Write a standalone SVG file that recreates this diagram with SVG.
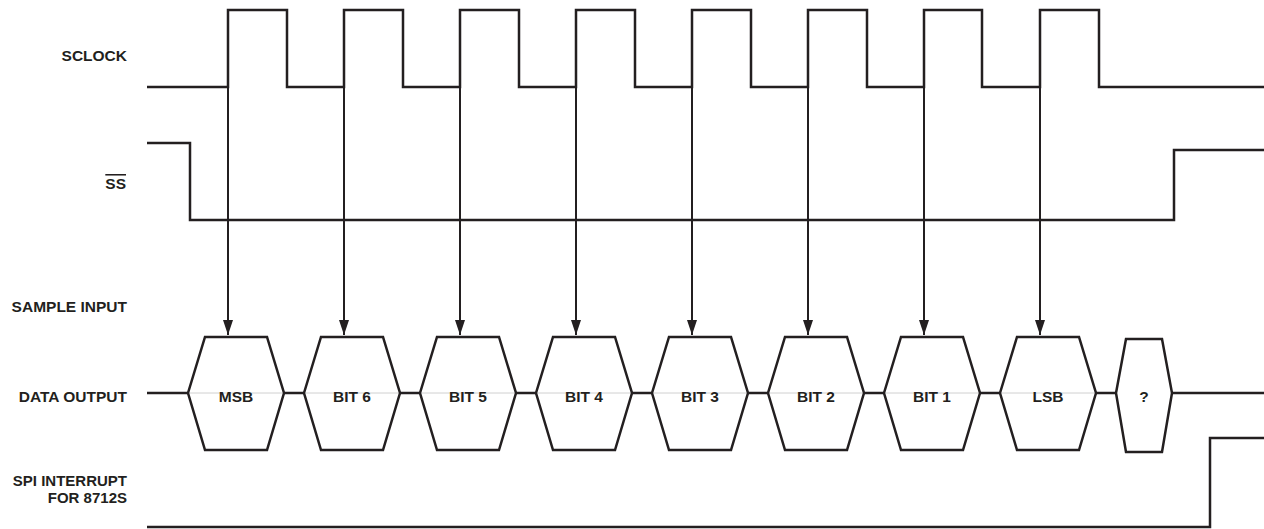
<svg xmlns="http://www.w3.org/2000/svg" width="1264" height="529" viewBox="0 0 1264 529">
<style>
.sig{fill:none;stroke:#231f20;stroke-width:2.5;stroke-linejoin:miter;stroke-linecap:butt}
.arr{fill:none;stroke:#231f20;stroke-width:2}
.hex{fill:none;stroke:#231f20;stroke-width:2.5;stroke-linejoin:miter}
.lbl{font-family:"Liberation Sans",Arial,sans-serif;font-weight:bold;font-size:15.5px;fill:#231f20}
.sm{font-size:15px}
.r{text-anchor:end}
.c{text-anchor:middle}
.guide{stroke:#d0d0d0;stroke-width:1}
</style>
<defs>
<marker id="ah" markerWidth="16" markerHeight="10" refX="15" refY="5" orient="auto" markerUnits="userSpaceOnUse" viewBox="0 0 16 10">
<path d="M0,0 L15,5 L0,10 Z" fill="#231f20"/>
</marker>
</defs>
<rect width="1264" height="529" fill="#ffffff"/>

<g id="labels">
<text class="lbl r" x="127" y="61">SCLOCK</text>
<text class="lbl r" x="126" y="189" style="text-decoration:overline">SS</text>
<text class="lbl r" x="127" y="312">SAMPLE INPUT</text>
<text class="lbl r" x="127" y="402">DATA OUTPUT</text>
<text class="lbl sm r" x="127" y="486">SPI INTERRUPT</text>
<text class="lbl sm r" x="127" y="503">FOR 8712S</text>
</g>

<g id="sclock">
<path class="sig" d="M147,87 H228 V10 H287 V87 H344 V10 H403 V87 H460 V10 H519 V87 H576 V10 H635 V87 H692 V10 H751 V87 H808 V10 H867 V87 H924 V10 H982 V87 H1040 V10 H1099 V87 H1264"/>
</g>

<g id="ss">
<path class="sig" d="M147,143 H190 V220 H1174 V150 H1264"/>
</g>

<g id="connectors">
<line class="arr" x1="228" y1="87" x2="228" y2="335" marker-end="url(#ah)"/>
<line class="arr" x1="344" y1="87" x2="344" y2="335" marker-end="url(#ah)"/>
<line class="arr" x1="460" y1="87" x2="460" y2="335" marker-end="url(#ah)"/>
<line class="arr" x1="576" y1="87" x2="576" y2="335" marker-end="url(#ah)"/>
<line class="arr" x1="692" y1="87" x2="692" y2="335" marker-end="url(#ah)"/>
<line class="arr" x1="808" y1="87" x2="808" y2="335" marker-end="url(#ah)"/>
<line class="arr" x1="924" y1="87" x2="924" y2="335" marker-end="url(#ah)"/>
<line class="arr" x1="1040" y1="87" x2="1040" y2="335" marker-end="url(#ah)"/>
</g>

<g id="data-output">
<line class="guide" x1="188" y1="393" x2="1097" y2="393"/>
<path class="sig" d="M147,393 H188 M284,393 H304 M400,393 H420 M516,393 H536 M632,393 H652 M748,393 H768 M864,393 H884 M980,393 H1000 M1096,393 H1116 M1172,393 H1264"/>
<g id="hex-msb"><polygon class="hex" points="188,393 205,337 267,337 284,393 267,450 205,450"/><text class="lbl c" x="236" y="402">MSB</text></g>
<g id="hex-bit6"><polygon class="hex" points="304,393 321,337 383,337 400,393 383,450 321,450"/><text class="lbl c" x="352" y="402">BIT 6</text></g>
<g id="hex-bit5"><polygon class="hex" points="420,393 437,337 499,337 516,393 499,450 437,450"/><text class="lbl c" x="468" y="402">BIT 5</text></g>
<g id="hex-bit4"><polygon class="hex" points="536,393 553,337 615,337 632,393 615,450 553,450"/><text class="lbl c" x="584" y="402">BIT 4</text></g>
<g id="hex-bit3"><polygon class="hex" points="652,393 669,337 731,337 748,393 731,450 669,450"/><text class="lbl c" x="700" y="402">BIT 3</text></g>
<g id="hex-bit2"><polygon class="hex" points="768,393 785,337 847,337 864,393 847,450 785,450"/><text class="lbl c" x="816" y="402">BIT 2</text></g>
<g id="hex-bit1"><polygon class="hex" points="884,393 901,337 963,337 980,393 963,450 901,450"/><text class="lbl c" x="932" y="402">BIT 1</text></g>
<g id="hex-lsb"><polygon class="hex" points="1000,393 1017,337 1079,337 1096,393 1079,450 1017,450"/><text class="lbl c" x="1048" y="402">LSB</text></g>
<g id="hex-unknown"><polygon class="hex" points="1116,393 1126,339 1162,339 1172,393 1162,452 1126,452"/><text class="lbl c" x="1144" y="402">?</text></g>
</g>

<g id="spi-interrupt">
<path class="sig" d="M147,527 H1210 V438 H1264"/>
</g>
</svg>
